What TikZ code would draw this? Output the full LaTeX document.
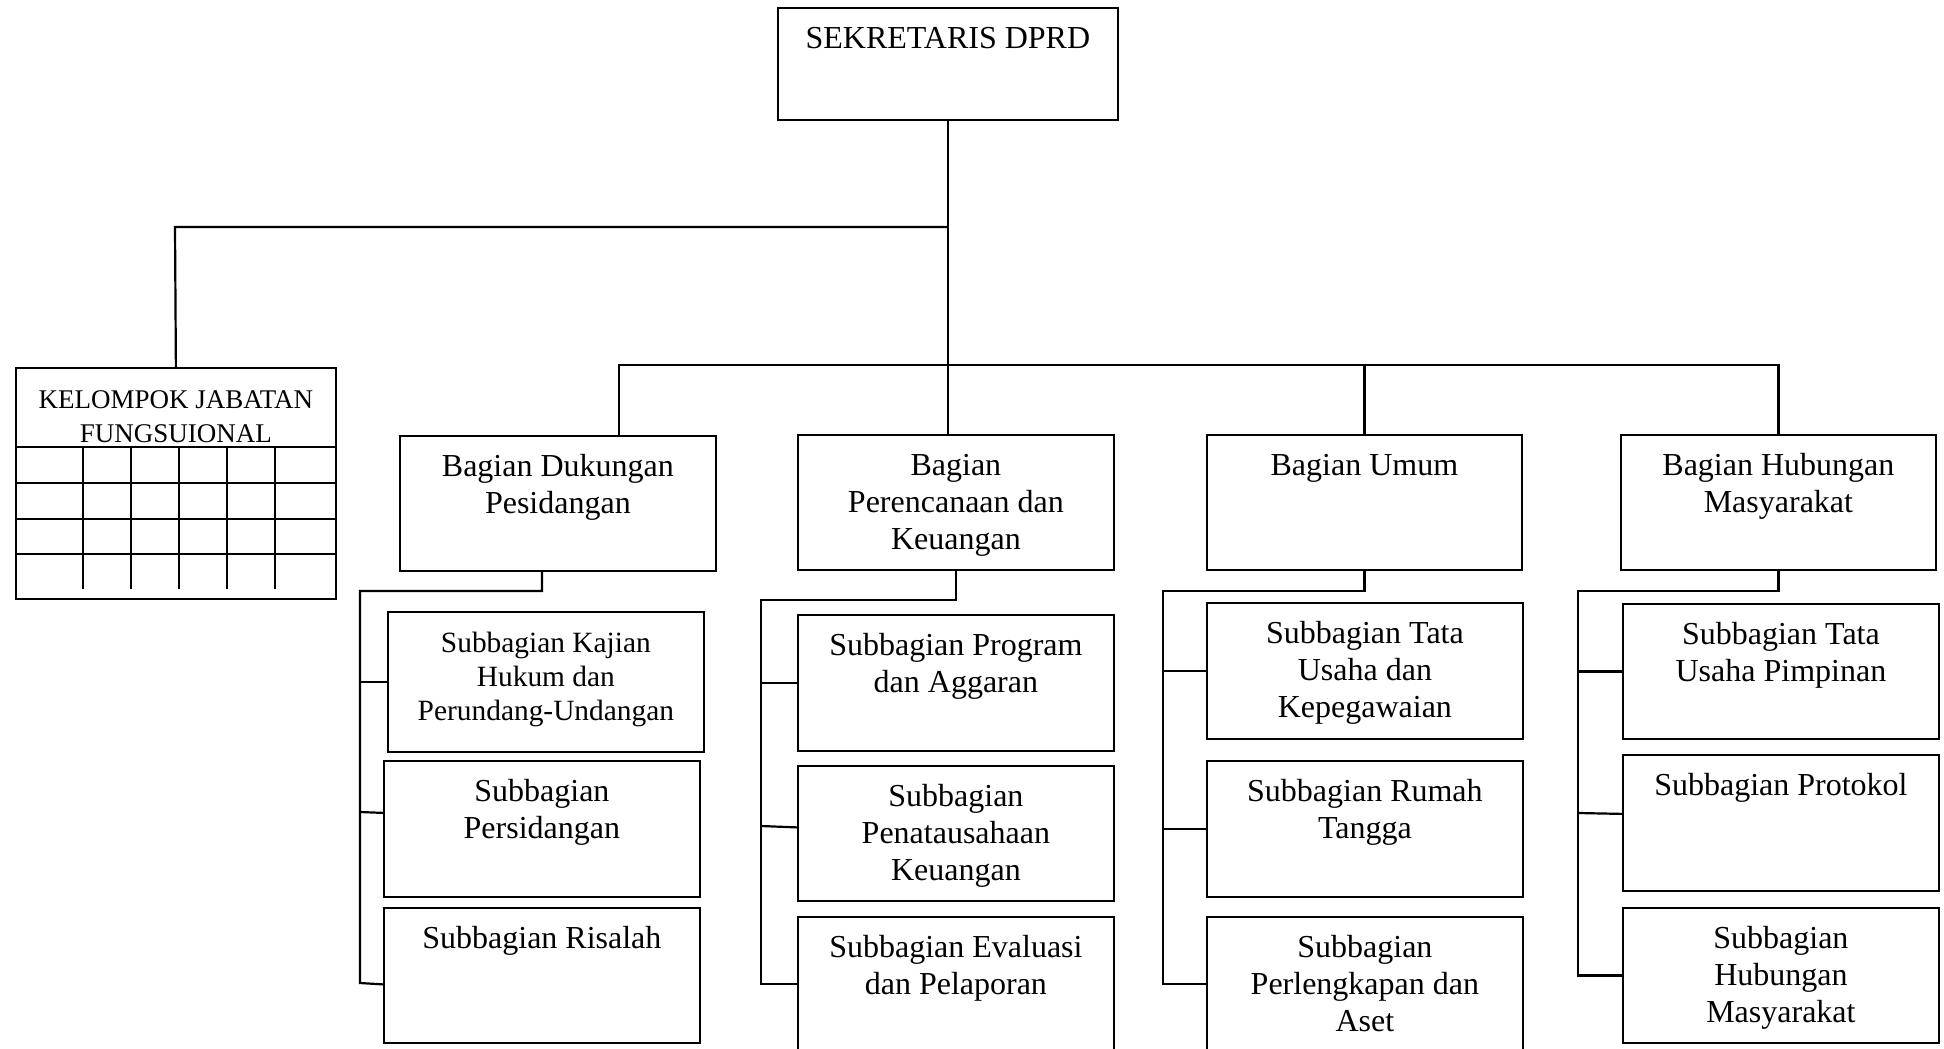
\documentclass[tikz,border=0pt]{standalone}
\usepackage{fontspec}
\setmainfont{Liberation Serif}
\usetikzlibrary{positioning}

% box content: width and height in pixels of the reference, text from the top
\newcommand{\isi}[3]{\parbox[c][\dimexpr#2pt/2\relax][t]{\dimexpr#1pt/2\relax}{\centering\rule{0pt}{20.5pt}#3}}

\tikzset{
    kotak/.style={draw, line width=0.9pt, inner sep=0pt, anchor=north west},
    garis/.style={draw, line width=1.1pt},
}

\begin{document}
\begin{tikzpicture}[x=0.5pt, y=-0.5pt, font=\fontsize{16}{18.5}\selectfont]
    \useasboundingbox (0,0) rectangle (1944,1049);
    \clip (0,0) rectangle (1944,1049);

    \node[kotak] (sek) at (777,7) {\isi{340}{112}{SEKRETARIS DPRD}};
    \node[kotak, font=\fontsize{13.5}{17}\selectfont] (kel) at (15,367) {\isi{320}{231}{KELOMPOK JABATAN\\FUNGSUIONAL}};

    \node[kotak] (b1) at (399,435) {\isi{316}{135}{Bagian Dukungan\\Pesidangan}};
    \node[kotak] (b2) at (797,434) {\isi{316}{135}{Bagian\\Perencanaan dan\\Keuangan}};
    \node[kotak] (b3) at (1206,434) {\isi{315}{135}{Bagian Umum}};
    \node[kotak] (b4) at (1620,434) {\isi{315}{135}{Bagian Hubungan\\Masyarakat}};

    \node[kotak, font=\fontsize{14.7}{17}\selectfont] (s11) at (387,611) {\isi{316}{140}{Subbagian Kajian\\Hukum dan\\Perundang-Undangan}};
    \node[kotak] (s12) at (383,760) {\isi{316}{136}{Subbagian\\Persidangan}};
    \node[kotak] (s13) at (383,907) {\isi{316}{135}{Subbagian Risalah}};

    \node[kotak] (s21) at (797,614) {\isi{316}{136}{Subbagian Program\\dan Aggaran}};
    \node[kotak] (s22) at (797,765) {\isi{316}{135}{Subbagian\\Penatausahaan\\Keuangan}};
    \node[kotak] (s23) at (797,916) {\isi{316}{134}{Subbagian Evaluasi\\dan Pelaporan}};

    \node[kotak] (s31) at (1206,602) {\isi{316}{136}{Subbagian Tata\\Usaha dan\\Kepegawaian}};
    \node[kotak] (s32) at (1206,760) {\isi{316}{136}{Subbagian Rumah\\Tangga}};
    \node[kotak] (s33) at (1206,916) {\isi{316}{134}{Subbagian\\Perlengkapan dan\\Aset}};

    \node[kotak] (s41) at (1622,603) {\isi{316}{135}{Subbagian Tata\\Usaha Pimpinan}};
    \node[kotak] (s42) at (1622,754) {\isi{316}{136}{Subbagian Protokol}};
    \node[kotak] (s43) at (1622,907) {\isi{316}{135}{Subbagian\\Hubungan\\Masyarakat}};

    % grid of the functional group
    \foreach \y in {447,483,519,554}
        \draw[line width=1.1pt] (kel.west |- 0,\y) -- (kel.east |- 0,\y);
    \foreach \x in {83,131,179,227,275}
        \draw[line width=1.1pt] (\x,447) -- (\x,589);

    % top lines
    \coordinate (cab) at (175,227);
    \coordinate (rel) at (619,365);
    \draw[garis] (sek.south) -- (sek.south |- b2.north);
    \draw[garis] (kel.north) -- (cab) -- (cab -| sek.south);
    \draw[garis] (rel |- b1.north) -- (rel) -| (b4.north);
    \draw[garis] (b3.north) -- (b3.north |- rel);

    % sub lines
    \coordinate (k1) at (360,591);
    \coordinate (k2) at (761,600);
    \coordinate (k3) at (1163,591);
    \coordinate (k4) at (1578,591);
    \draw[garis] ([xshift=-8pt]b1.south) |- (k1) -- (k1 |- 0,983) -- ([yshift=-4.5pt]s13.west);
    \draw[garis] (k1 |- s11.west) -- (s11.west);
    \draw[garis] (k1 |- 0,812) -- ([yshift=8pt]s12.west);
    \draw[garis] (b2.south) |- (k2) -- (k2 |- s23.west) -- (s23.west);
    \draw[garis] (k2 |- s21.west) -- (s21.west);
    \draw[garis] (k2 |- 0,826) -- ([yshift=3pt]s22.west);
    \draw[garis] (b3.south) |- (k3) -- (k3 |- s33.west) -- (s33.west);
    \draw[garis] (k3 |- s31.west) -- (s31.west);
    \draw[garis] (k3 |- s32.west) -- (s32.west);
    \draw[garis] (b4.south) |- (k4) -- (k4 |- s43.west) -- (s43.west);
    \draw[garis] (k4 |- s41.west) -- (s41.west);
    \draw[garis] (k4 |- 0,813) -- ([yshift=4.5pt]s42.west);
\end{tikzpicture}
\end{document}
